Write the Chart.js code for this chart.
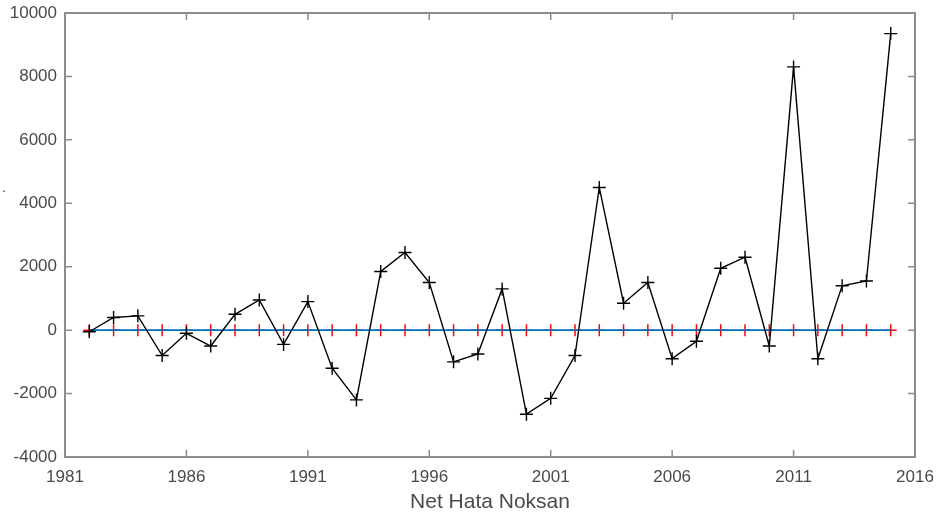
<!DOCTYPE html>
<html>
<head>
<meta charset="utf-8">
<script src="https://cdn.jsdelivr.net/npm/chart.js@4/dist/chart.umd.min.js"></script>
<style>
  html, body { margin: 0; padding: 0; background: #fff; }
  #wrap { width: 937px; height: 518px; }
</style>
</head>
<body>
<div id="wrap"><canvas id="chart" width="937" height="518"></canvas></div>
<script>
// ── Data ──────────────────────────────────────────────────────────────────────
const years = [1982, 1983, 1984, 1985, 1986, 1987, 1988, 1989, 1990, 1991,
               1992, 1993, 1994, 1995, 1996, 1997, 1998, 1999, 2000, 2001,
               2002, 2003, 2004, 2005, 2006, 2007, 2008, 2009, 2010, 2011,
               2012, 2013, 2014, 2015];
const netError = [-50, 400, 450, -800, -100, -500, 500, 950, -450, 900,
                  -1200, -2200, 1850, 2450, 1500, -1000, -750, 1300, -2650, -2150,
                  -800, 4500, 850, 1500, -900, -350, 1950, 2300, -500, 8300,
                  -900, 1400, 1550, 9350];
const zeroRef = [0, 0, 0, 0, 0, 0, 0, 0, 0, 0, 0, 0, 0, 0, 0, 0, 0,
                 0, 0, 0, 0, 0, 0, 0, 0, 0, 0, 0, 0, 0, 0, 0, 0, 0];
const xTicks = [1981, 1986, 1991, 1996, 2001, 2006, 2011, 2016];
const yTicks = [-4000, -2000, 0, 2000, 4000, 6000, 8000, 10000];
const xTitle = 'Net Hata Noksan';
const yTitle = '.';

// ── Styling ───────────────────────────────────────────────────────────────────
const AXIS_GREY = '#8c8c8c';
const TEXT_GREY = '#4a4a4a';
const FONT = 'Liberation Sans, Arial, Helvetica, sans-serif';

const toXY = (vals) => years.map((yr, i) => ({ x: yr, y: vals[i] }));

// MATLAB-like frame with inward ticks on all four sides
const matlabBox = {
  id: 'matlabBox',
  afterDatasetsDraw(chart) {
    const { ctx, chartArea: a, scales } = chart;
    const len = 7;
    ctx.save();
    ctx.strokeStyle = AXIS_GREY;
    ctx.lineWidth = 1.5;
    ctx.beginPath();
    scales.x.ticks.forEach(t => {
      const px = scales.x.getPixelForValue(t.value);
      ctx.moveTo(px, a.bottom); ctx.lineTo(px, a.bottom - len);
      ctx.moveTo(px, a.top);    ctx.lineTo(px, a.top + len);
    });
    scales.y.ticks.forEach(t => {
      const py = scales.y.getPixelForValue(t.value);
      ctx.moveTo(a.left, py);  ctx.lineTo(a.left + len, py);
      ctx.moveTo(a.right, py); ctx.lineTo(a.right - len, py);
    });
    ctx.stroke();
    ctx.lineWidth = 2;
    ctx.strokeRect(a.left, a.top, a.right - a.left, a.bottom - a.top);
    // stray y label from the original figure
    ctx.fillStyle = TEXT_GREY;
    ctx.font = '14px ' + FONT;
    ctx.textAlign = 'left';
    ctx.textBaseline = 'middle';
    ctx.fillText(yTitle, 2, 188);
    ctx.restore();
  }
};

new Chart(document.getElementById('chart').getContext('2d'), {
  type: 'line',
  data: {
    datasets: [
      {
        label: 'Net Hata Noksan',
        data: toXY(netError),
        borderColor: '#000',
        borderWidth: 1.4,
        pointStyle: 'cross',
        pointRadius: 6.5,
        pointBorderColor: '#000',
        pointBorderWidth: 1.4,
        tension: 0,
        clip: false,
      },
      {
        label: 'zero line',
        data: toXY(zeroRef),
        borderColor: '#0072BD',
        borderWidth: 1.6,
        pointRadius: 0,
        tension: 0,
      },
      {
        label: 'zero markers',
        data: toXY(zeroRef),
        showLine: false,
        pointStyle: 'cross',
        pointRadius: 6,
        pointBorderColor: '#ff0000',
        pointBorderWidth: 1.5,
        clip: false,
      },
    ],
  },
  options: {
    responsive: false,
    animation: false,
    events: [],
    layout: { padding: { top: 13, right: 22, left: 0, bottom: 0 } },
    plugins: { legend: { display: false }, tooltip: { enabled: false } },
    scales: {
      x: {
        type: 'linear',
        min: xTicks[0],
        max: xTicks[xTicks.length - 1],
        afterBuildTicks: s => { s.ticks = xTicks.map(v => ({ value: v })); },
        afterFit: s => { s.height = 61; s.paddingLeft = 0; s.paddingRight = 0; },
        grid: { display: false, drawTicks: false },
        border: { display: false },
        ticks: {
          color: TEXT_GREY,
          font: { family: FONT, size: 17 },
          padding: 10,
          maxRotation: 0,
          autoSkip: false,
          callback: v => String(v),
        },
        title: {
          display: true,
          text: xTitle,
          color: TEXT_GREY,
          font: { family: FONT, size: 21 },
          padding: { top: 0, bottom: 3 },
        },
      },
      y: {
        min: yTicks[0],
        max: yTicks[yTicks.length - 1],
        afterBuildTicks: s => { s.ticks = yTicks.map(v => ({ value: v })); },
        afterFit: s => { s.width = 65; s.paddingTop = 0; s.paddingBottom = 0; },
        grid: { display: false, drawTicks: false },
        border: { display: false },
        ticks: {
          color: TEXT_GREY,
          font: { family: FONT, size: 17 },
          padding: 8,
          autoSkip: false,
          callback: v => String(v),
        },
      },
    },
  },
  plugins: [matlabBox],
});
</script>
</body>
</html>
